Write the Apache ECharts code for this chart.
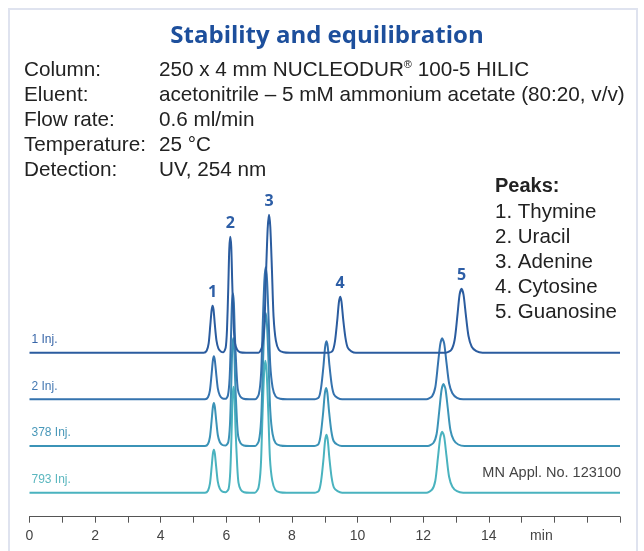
<!DOCTYPE html>
<html>
<head>
<meta charset="utf-8">
<script src="https://cdn.jsdelivr.net/npm/echarts@6/dist/echarts.min.js"></script>
<style>
  html, body { margin: 0; padding: 0; background: #fff; }
  #chart { width: 644px; height: 551px; }
</style>
</head>
<body>
<div id="chart"></div>
<script>
// chromatogram traces: [time (min), signal]
const inj1 = [
  [0, 0],
  [5.31, 0], [5.40, 2], [5.46, 9], [5.51, 27], [5.55, 42], [5.58, 47], [5.61, 43], [5.65, 28], [5.70, 12], [5.76, 4], [5.84, 1], [5.91, 0.5],
  [5.98, 5], [6.02, 23], [6.06, 66], [6.09, 104], [6.12, 116], [6.15, 106], [6.18, 70], [6.22, 30], [6.26, 10], [6.33, 3], [6.42, 0.5], [6.60, 0],
  [6.98, 0], [7.09, 6], [7.16, 28], [7.21, 79], [7.26, 124], [7.30, 138], [7.34, 126], [7.39, 83], [7.44, 36], [7.51, 12], [7.60, 3], [7.74, 0.5], [7.95, 0],
  [9.11, 0], [9.24, 2], [9.31, 11], [9.38, 32], [9.43, 50], [9.47, 56], [9.51, 51], [9.56, 34], [9.63, 15], [9.70, 5], [9.81, 1.4], [9.95, 0],
  [12.69, 0], [12.86, 3], [12.96, 13], [13.04, 36], [13.11, 58], [13.17, 64], [13.23, 58], [13.30, 38], [13.38, 17], [13.48, 6], [13.62, 1.6], [13.81, 0],
  [18, 0]
];
const inj2 = [
  [0, 0],
  [5.35, 0], [5.44, 2], [5.50, 9], [5.55, 25], [5.59, 39], [5.62, 43], [5.65, 39], [5.69, 26], [5.74, 11], [5.80, 4], [5.88, 1], [5.98, 0.5],
  [6.05, 4], [6.10, 21], [6.14, 60], [6.17, 95], [6.20, 106], [6.23, 96], [6.26, 64], [6.31, 28], [6.35, 10], [6.42, 3], [6.52, 0.5], [6.70, 0],
  [6.88, 0], [6.99, 5], [7.06, 26], [7.11, 75], [7.16, 119], [7.20, 132], [7.24, 120], [7.29, 79], [7.34, 34], [7.41, 12], [7.50, 3], [7.64, 0.5], [7.85, 0],
  [8.69, 0], [8.82, 2], [8.89, 12], [8.96, 33], [9.01, 52], [9.05, 58], [9.09, 53], [9.14, 35], [9.21, 15], [9.28, 5], [9.39, 1.5], [9.53, 0],
  [12.10, 0], [12.27, 3], [12.37, 12], [12.45, 35], [12.52, 55], [12.58, 61], [12.64, 56], [12.71, 37], [12.79, 16], [12.89, 6], [13.03, 1.5], [13.22, 0],
  [18, 0]
];
const inj378 = [
  [0, 0],
  [5.35, 0], [5.44, 2], [5.50, 9], [5.55, 25], [5.59, 39], [5.62, 43], [5.65, 39], [5.69, 26], [5.74, 11], [5.80, 4], [5.88, 1], [5.98, 0.5],
  [6.06, 4], [6.11, 21], [6.15, 61], [6.18, 97], [6.21, 108], [6.24, 98], [6.27, 65], [6.32, 28], [6.36, 10], [6.43, 3], [6.53, 0.5], [6.71, 0],
  [6.88, 0], [6.99, 5], [7.06, 26], [7.11, 76], [7.16, 120], [7.20, 133], [7.24, 121], [7.29, 80], [7.34, 35], [7.41, 12], [7.50, 3], [7.64, 0.5], [7.85, 0],
  [8.68, 0], [8.81, 2], [8.88, 12], [8.95, 33], [9.00, 52], [9.04, 58], [9.08, 53], [9.13, 35], [9.20, 15], [9.27, 5], [9.38, 1.5], [9.52, 0],
  [12.14, 0], [12.31, 3], [12.41, 12], [12.49, 35], [12.56, 56], [12.62, 62], [12.68, 57], [12.75, 38], [12.83, 16], [12.93, 6], [13.07, 1.5], [13.26, 0],
  [18, 0]
];
const inj793 = [
  [0, 0],
  [5.35, 0], [5.44, 2], [5.50, 9], [5.55, 25], [5.59, 39], [5.62, 43], [5.65, 39], [5.69, 26], [5.74, 11], [5.80, 4], [5.88, 1], [5.98, 0.5],
  [6.07, 4], [6.12, 21], [6.16, 60], [6.19, 95], [6.22, 106], [6.25, 96], [6.28, 64], [6.33, 28], [6.37, 10], [6.44, 3], [6.54, 0.5], [6.72, 0],
  [6.87, 0], [6.98, 5], [7.05, 26], [7.10, 75], [7.15, 119], [7.19, 132], [7.23, 120], [7.28, 79], [7.33, 34], [7.40, 12], [7.49, 3], [7.63, 0.5], [7.84, 0],
  [8.69, 0], [8.82, 2], [8.89, 12], [8.96, 33], [9.01, 52], [9.05, 58], [9.09, 53], [9.14, 35], [9.21, 15], [9.28, 5], [9.39, 1.5], [9.53, 0],
  [12.10, 0], [12.27, 3], [12.37, 12], [12.45, 35], [12.52, 55], [12.58, 61], [12.64, 56], [12.71, 37], [12.79, 16], [12.89, 6], [13.03, 1.5], [13.22, 0],
  [18, 0]
];

const traceNames = ['1 Inj.', '2 Inj.', '378 Inj.', '793 Inj.'];
const traceData = [inj1, inj2, inj378, inj793];
const traceColors = ['#2b5c9f', '#3573ae', '#3b93b7', '#4ab3bf'];
const labelColors = ['#3866a8', '#4478b2', '#4998b9', '#5bb7bf'];

// peak apex times in the first injection, labelled 1..5
const peakTimes = [5.58, 6.12, 7.30, 9.47, 13.17];
const peakNames = ['Thymine', 'Uracil', 'Adenine', 'Cytosine', 'Guanosine'];

const axisLabels = ['0', '', '2', '', '4', '', '6', '', '8', '', '10', '', '12', '', '14', '', 'min', '', ''];

const conditions = [
  ['Column:', '250 x 4 mm NUCLEODUR{sup|®} 100-5 HILIC'],
  ['Eluent:', 'acetonitrile – 5 mM ammonium acetate (80:20, v/v)'],
  ['Flow rate:', '0.6 ml/min'],
  ['Temperature:', '25 °C'],
  ['Detection:', 'UV, 254 nm']
];
const titleText = 'Stability and equilibration';
const applText = 'MN Appl. No. 123100';

const chart = echarts.init(document.getElementById('chart'), null, { renderer: 'canvas' });
const FONT = '"Liberation Sans", Arial, sans-serif';

// one grid per trace, baselines stacked; peaks may rise above their own grid
const baselines = [352.7, 399.3, 446, 492.7];
const grids = baselines.map(b => ({ left: 29.5, right: 24, top: b - 150, height: 150 }));
const xAxes = baselines.map((b, i) => ({
  type: 'value',
  gridIndex: i,
  min: 0,
  max: 18,
  interval: 1,
  show: i === 3,
  offset: 24,
  splitLine: { show: false },
  axisLine: { onZero: false, lineStyle: { color: '#555', width: 1 } },
  axisTick: { length: 6, lineStyle: { color: '#555' } },
  axisLabel: {
    margin: 12,
    color: '#444',
    fontSize: 14,
    fontFamily: FONT,
    formatter: v => {
      const s = axisLabels[Math.round(v)] || '';
      return s === 'min' ? '{u|min}' : s;
    },
    rich: { u: { fontSize: 14, fontFamily: FONT, color: '#444', padding: [0, 26, 0, 0] } }
  }
}));
const yAxes = baselines.map((b, i) => ({ type: 'value', gridIndex: i, min: 0, max: 150, show: false }));

const series = traceData.map((d, i) => {
  const s = {
    name: traceNames[i],
    type: 'line',
    xAxisIndex: i,
    yAxisIndex: i,
    data: d,
    clip: false,
    showSymbol: false,
    smooth: 0.25,
    z: 10 - i,
    lineStyle: { color: traceColors[i], width: 2 },
    markPoint: {
      symbol: 'circle',
      symbolSize: 0,
      silent: true,
      data: [{
        coord: [0, 0],
        label: {
          show: true,
          position: [2, -19],
          formatter: traceNames[i],
          color: labelColors[i],
          fontSize: 12,
          fontFamily: FONT
        }
      }]
    }
  };
  if (i === 0) {
    peakTimes.forEach((t, k) => {
      const pt = d.find(p => p[0] === t);
      s.markPoint.data.push({
        coord: pt,
        label: {
          show: true,
          position: 'top',
          distance: 5,
          formatter: String(k + 1),
          color: '#2d5ea6',
          fontSize: 16,
          fontWeight: 'bold',
          fontFamily: '"Open Sans", "Liberation Sans", sans-serif'
        }
      });
    });
  }
  return s;
});

const graphics = [
  {
    type: 'rect',
    shape: { x: 9, y: 9, width: 628, height: 600 },
    style: { fill: 'none', stroke: '#dfe3ef', lineWidth: 2 },
    silent: true
  },
  {
    type: 'text',
    style: {
      text: titleText, x: 327, y: 36, textAlign: 'center', textVerticalAlign: 'middle',
      fontSize: 24, fontWeight: 'bold', fontFamily: '"Open Sans", sans-serif', fill: '#1d4f9c'
    }
  },
  {
    type: 'text',
    style: {
      text: applText, x: 621, y: 473, textAlign: 'right', textVerticalAlign: 'middle',
      fontSize: 14.5, fontFamily: FONT, fill: '#444'
    }
  },
  {
    type: 'text',
    style: {
      text: 'Peaks:', x: 495, y: 186, textAlign: 'left', textVerticalAlign: 'middle',
      fontSize: 20, fontWeight: 'bold', fontFamily: FONT, fill: '#222'
    }
  }
];
conditions.forEach((c, i) => {
  const y = 70 + i * 25;
  graphics.push({
    type: 'text',
    style: { text: c[0], x: 24, y, textVerticalAlign: 'middle', fontSize: 20.7, fontFamily: FONT, fill: '#222' }
  });
  graphics.push({
    type: 'text',
    style: {
      text: c[1], x: 159, y, textVerticalAlign: 'middle', fontSize: 20.7, fontFamily: FONT, fill: '#222',
      rich: { sup: { fontSize: 11, fontFamily: FONT, fill: '#222', padding: [0, 0, 10, 0] } }
    }
  });
});
peakNames.forEach((n, i) => {
  graphics.push({
    type: 'text',
    style: {
      text: (i + 1) + '. ' + n, x: 495, y: 212 + i * 25, textVerticalAlign: 'middle',
      fontSize: 20.5, fontFamily: FONT, fill: '#222'
    }
  });
});

chart.setOption({
  animation: false,
  backgroundColor: '#fff',
  grid: grids,
  xAxis: xAxes,
  yAxis: yAxes,
  series: series,
  graphic: graphics
});
</script>
</body>
</html>
